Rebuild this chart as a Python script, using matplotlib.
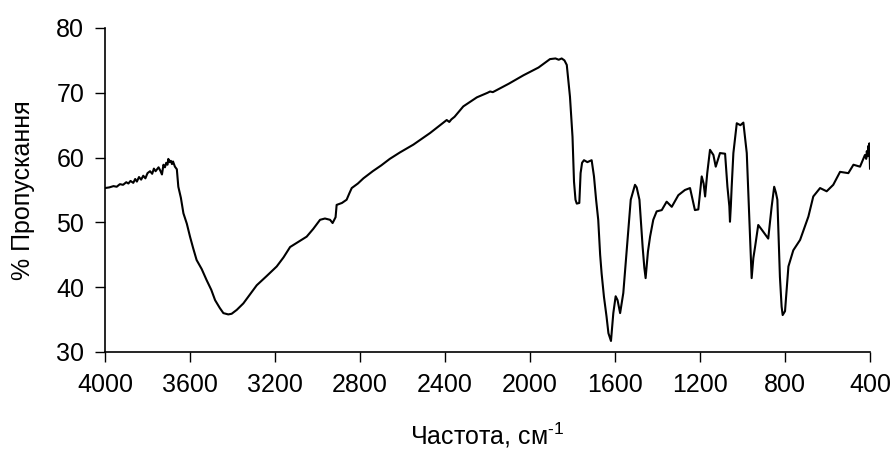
import numpy as np
import matplotlib
matplotlib.use('Agg')
import matplotlib.pyplot as plt

# IR spectrum (wavenumber [cm-1], transmittance [%])
wavenumber = [
    4000, 3980, 3960, 3945, 3930, 3915, 3900, 3890, 3880, 3867, 3858, 3850, 3840,
    3830, 3820, 3810, 3800, 3788, 3778, 3770, 3762, 3755, 3748, 3740, 3732, 3725,
    3718, 3712, 3706, 3702, 3696, 3690, 3685, 3680, 3671, 3662, 3655, 3643, 3631,
    3615, 3600, 3585, 3569, 3545, 3522, 3500, 3482, 3460, 3443, 3420, 3404, 3380,
    3349, 3320, 3286, 3240, 3192, 3160, 3129, 3090, 3051, 3020, 2988, 2965, 2941,
    2929, 2915, 2910, 2885, 2863, 2850, 2839, 2810, 2784, 2740, 2700, 2660, 2612,
    2549, 2470, 2392, 2380, 2370, 2355, 2314, 2250, 2200, 2188, 2175, 2100, 2031,
    1960, 1906, 1880, 1865, 1851, 1838, 1827, 1812, 1800, 1793, 1786, 1780, 1768,
    1762, 1755, 1746, 1730, 1710, 1699, 1689, 1679, 1670, 1663, 1652, 1640, 1631,
    1619, 1613, 1608, 1597, 1588, 1576, 1561, 1545, 1526, 1506, 1498, 1485, 1470,
    1462, 1456, 1445, 1435, 1420, 1404, 1380, 1357, 1333, 1302, 1271, 1247, 1235,
    1224, 1208, 1192, 1183, 1176, 1166, 1153, 1137, 1126, 1106, 1082, 1071, 1062,
    1059, 1055, 1051, 1043, 1027, 1010, 996, 980, 968, 962, 957, 949, 941, 926,
    910, 879, 863, 851, 843, 836, 824, 816, 811, 800, 784, 761, 729, 690, 667,
    635, 604, 573, 541, 502, 478, 447, 424, 418, 415, 411, 408, 405, 403, 400,
]
transmittance = [
    55.3, 55.4, 55.6, 55.5, 55.9, 55.8, 56.2, 56.0, 56.4, 56.1, 56.7, 56.3, 57.0,
    56.6, 57.2, 56.8, 57.6, 57.9, 57.5, 58.3, 57.9, 58.2, 58.5, 58.0, 57.4, 58.9,
    58.5, 59.2, 58.9, 59.8, 59.3, 59.5, 59.0, 59.4, 58.6, 58.2, 55.5, 53.8, 51.4,
    49.8, 47.8, 46.0, 44.2, 42.8, 41.1, 39.6, 38.0, 36.8, 36.0, 35.8, 35.9, 36.5,
    37.5, 38.8, 40.3, 41.7, 43.2, 44.6, 46.2, 47.0, 47.8, 49.0, 50.4, 50.6, 50.4,
    49.9, 50.8, 52.7, 53.0, 53.5, 54.5, 55.3, 56.0, 56.8, 57.9, 58.8, 59.8, 60.8,
    62.0, 63.8, 65.8, 65.5, 65.9, 66.3, 67.9, 69.3, 70.0, 70.2, 70.1, 71.4, 72.7,
    73.9, 75.2, 75.3, 75.1, 75.3, 75.0, 74.3, 69.4, 63.2, 56.3, 53.5, 52.9, 53.0,
    57.6, 59.2, 59.6, 59.3, 59.6, 57.1, 53.5, 50.4, 45.0, 42.1, 38.5, 35.5, 32.9,
    31.7, 34.0, 36.0, 38.6, 38.0, 36.0, 39.1, 45.7, 53.5, 55.8, 55.4, 53.5, 46.2,
    43.0, 41.4, 45.5, 47.8, 50.4, 51.7, 51.9, 53.2, 52.4, 54.2, 55.0, 55.3, 53.5,
    51.9, 52.0, 57.1, 56.0, 54.0, 57.6, 61.2, 60.4, 58.6, 60.7, 60.6, 55.5, 52.5,
    50.1, 52.5, 55.5, 60.7, 65.3, 65.0, 65.4, 60.7, 50.4, 45.0, 41.4, 44.5, 46.2,
    49.6, 48.9, 47.5, 52.4, 55.5, 54.6, 53.5, 41.6, 37.0, 35.7, 36.3, 43.2, 45.7,
    47.3, 50.9, 54.0, 55.3, 54.8, 55.8, 57.8, 57.6, 58.9, 58.6, 60.4, 59.8, 61.0,
    60.2, 61.8, 60.6, 62.2, 58.3,
]

plt.rcParams['font.family'] = ['Liberation Sans', 'DejaVu Sans']
plt.rcParams['mathtext.fontset'] = 'custom'
plt.rcParams['mathtext.rm'] = 'Liberation Sans'
plt.rcParams['mathtext.it'] = 'Liberation Sans'

fig = plt.figure(figsize=(8.96, 4.62), dpi=100)
ax = fig.add_axes([0.1172, 0.2381, 0.8538, 0.7013])

ax.plot(wavenumber, transmittance, color='black', linewidth=1.5)

ax.set_xlim(4000, 400)
ax.set_ylim(30, 80)
ax.set_xticks(np.arange(4000, 399, -400))
ax.set_yticks(np.arange(30, 81, 10))
ax.spines['top'].set_visible(False)
ax.spines['right'].set_visible(False)
for s in ['left', 'bottom']:
    ax.spines[s].set_linewidth(1.2)
ax.tick_params(direction='out', length=7, width=1.0, labelsize=18)
ax.tick_params(axis='x', pad=8)
ax.tick_params(axis='y', pad=8)

ax.set_xlabel('Частота, см$^{\u2010 1}$', fontsize=18, labelpad=17)
ax.set_ylabel('% Пропускання', fontsize=18, labelpad=15)

fig.savefig('out.png', dpi=100)
